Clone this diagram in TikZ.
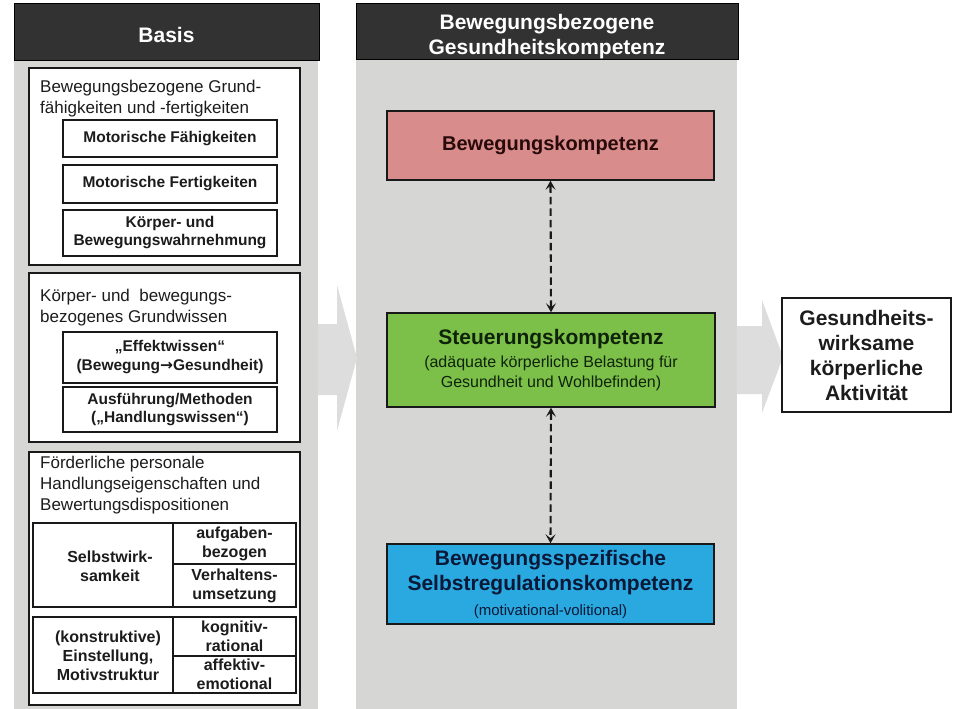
\documentclass[tikz,border=0pt]{standalone}
\usepackage{fontspec}
\setmainfont{Liberation Sans}
\newfontfamily\arrowfont{DejaVu Sans}
\usetikzlibrary{arrows.meta}
\definecolor{hdr}{RGB}{50,50,50}
\definecolor{colgray}{RGB}{214,214,212}
\definecolor{arrgray}{RGB}{221,221,221}
\definecolor{pinkbox}{RGB}{216,140,140}
\definecolor{greenbox}{RGB}{124,192,74}
\definecolor{bluebox}{RGB}{42,168,224}
\definecolor{txt}{RGB}{28,28,28}
\begin{document}
\begin{tikzpicture}[x=1pt,y=-1pt,
  header/.style={fill=hdr, draw=black, line width=1pt, inner sep=0pt, align=center, text=white,
    font=\bfseries\fontsize{21}{25}\selectfont},
  headertext/.style={inner sep=0pt, align=center, text=white, font=\bfseries\fontsize{21}{25}\selectfont},
  outerbox/.style={draw=black!90, line width=2.6pt, fill=white, inner sep=0pt},
  innerbox/.style={draw=black!90, line width=1.4pt, fill=white, inner sep=0pt, align=center, text=txt,
    font=\bfseries\fontsize{15.5}{18}\selectfont},
  cell/.style={draw=black!90, line width=1.4pt, fill=white, inner sep=0pt, align=center, text=txt,
    font=\bfseries\fontsize{16}{19}\selectfont},
  plain/.style={inner sep=0pt, align=center, text=txt, font=\bfseries\fontsize{16}{19}\selectfont},
  title/.style={inner sep=0pt, anchor=west, align=left, text=txt, font=\fontsize{17}{21}\selectfont},
  compbox/.style={draw=black!90, line width=1.5pt, inner sep=0pt, align=center},
  dasharrow/.style={draw=black!90, line width=2.1pt, dash pattern=on 7.5pt off 4pt,
    {Stealth[length=9pt,width=10pt,inset=4pt]}-{Stealth[length=9pt,width=10pt,inset=4pt]}},
  blockarrow/.style={fill=arrgray, draw=none}
]
\useasboundingbox (0,0) rectangle (953,709);
\fill[white] (0,0) rectangle (953,709);

% columns
\fill[colgray] (14,60) rectangle (318,709);
\fill[colgray] (356,60) rectangle (737,709);

% block arrows
\fill[blockarrow] (318,324) -- (337,324) -- (337,285) -- (357,358) -- (337,431) -- (337,395) -- (318,395) -- cycle;
\fill[blockarrow] (737,326) -- (762,326) -- (762,300) -- (783,357) -- (762,413) -- (762,394) -- (737,394) -- cycle;

% headers
\node[header, minimum width=305pt, minimum height=57pt] (basis) at (166.5,32.5) {};
\node[headertext] (basist) at (166.5,34.5) {Basis};
\node[header, minimum width=382pt, minimum height=56pt] (bgk) at (547,32) {};
\node[headertext] (bgkt) at (547,36.5) {Bewegungsbezogene\\Gesundheitskompetenz};

% Box 1
\node[outerbox, minimum width=271pt, minimum height=197pt] (b1) at (164.5,166.5) {};
\node[title] (t1) at (40,98.5) {Bewegungsbezogene Grund-\\fähigkeiten und -fertigkeiten};
\node[innerbox, minimum width=214pt, minimum height=37pt] (mf) at (170,138.5) {Motorische Fähigkeiten};
\node[innerbox, minimum width=214pt, minimum height=38pt] (mfe) at (170,184) {Motorische Fertigkeiten};
\node[innerbox, minimum width=214pt, minimum height=46pt] (kb) at (170,233) {Körper- und\\Bewegungswahrnehmung};

% Box 2
\node[outerbox, minimum width=271pt, minimum height=169pt] (b2) at (164.5,357.5) {};
\node[title] (t2) at (40,307.5) {Körper- und~~bewegungs-\\bezogenes Grundwissen};
\node[innerbox, minimum width=214pt, minimum height=51pt] (ew) at (170,357.5) {„Effektwissen“\\[1pt](Bewegung{\arrowfont\bfseries →}Gesundheit)};
\node[innerbox, minimum width=214pt, minimum height=45pt] (af) at (170,409.5) {Ausführung/Methoden\\(„Handlungswissen“)};

% Box 3
\node[outerbox, minimum width=271pt, minimum height=253pt] (b3) at (164.5,578.5) {};
\node[title] (t3) at (40,485) {Förderliche personale\\Handlungseigenschaften und\\Bewertungsdispositionen};
\node[cell, minimum width=140pt, minimum height=84pt] (sw) at (103,565) {};
\node[plain] (swt) at (110,566) {Selbstwirk-\\samkeit};
\node[cell, minimum width=123pt, minimum height=41pt] (ab) at (234.5,543.5) {aufgaben-\\bezogen};
\node[cell, minimum width=123pt, minimum height=43pt] (vu) at (234.5,585.5) {Verhaltens-\\umsetzung};
\node[cell, minimum width=140pt, minimum height=76pt] (em) at (103,655) {};
\node[plain] (emt) at (108,656) {(konstruktive)\\Einstellung,\\Motivstruktur};
\node[cell, minimum width=123pt, minimum height=39pt] (kr) at (234.5,636.5) {kognitiv-\\rational};
\node[cell, minimum width=123pt, minimum height=37pt] (ae) at (234.5,674.5) {affektiv-\\emotional};

% Middle competence boxes
\node[compbox, fill=pinkbox, minimum width=327pt, minimum height=69pt, text={rgb,255:red,40;green,10;blue,10},
  font=\bfseries\fontsize{20}{24}\selectfont] (bk) at (550.5,145.5) {Bewegungskompetenz};
\node[compbox, fill=greenbox, minimum width=328pt, minimum height=94pt, text={rgb,255:red,15;green,35;blue,10},
  font=\fontsize{16}{20}\selectfont] (sk) at (551,360)
  {{\bfseries\fontsize{21}{25}\selectfont Steuerungskompetenz}\\[3pt](adäquate körperliche Belastung für\\Gesundheit und Wohlbefinden)};
\node[compbox, fill=bluebox, minimum width=327pt, minimum height=80pt, text={rgb,255:red,10;green,25;blue,55},
  font=\bfseries\fontsize{21}{25}\selectfont] (sr) at (550.5,584)
  {Bewegungsspezifische\\Selbstregulationskompetenz\\{\mdseries\fontsize{15}{18}\selectfont (motivational-volitional)}};

% dashed connectors
\draw[dasharrow] (bk.south) -- (sk.north);
\draw[dasharrow] (sk.south) -- (sr.north);

% Right box
\node[compbox, fill=white, text=txt, minimum width=169pt, minimum height=114pt,
  font=\bfseries\fontsize{21}{25}\selectfont] (ga) at (866.5,355) {Gesundheits-\\wirksame\\körperliche\\Aktivität};
\end{tikzpicture}
\end{document}
